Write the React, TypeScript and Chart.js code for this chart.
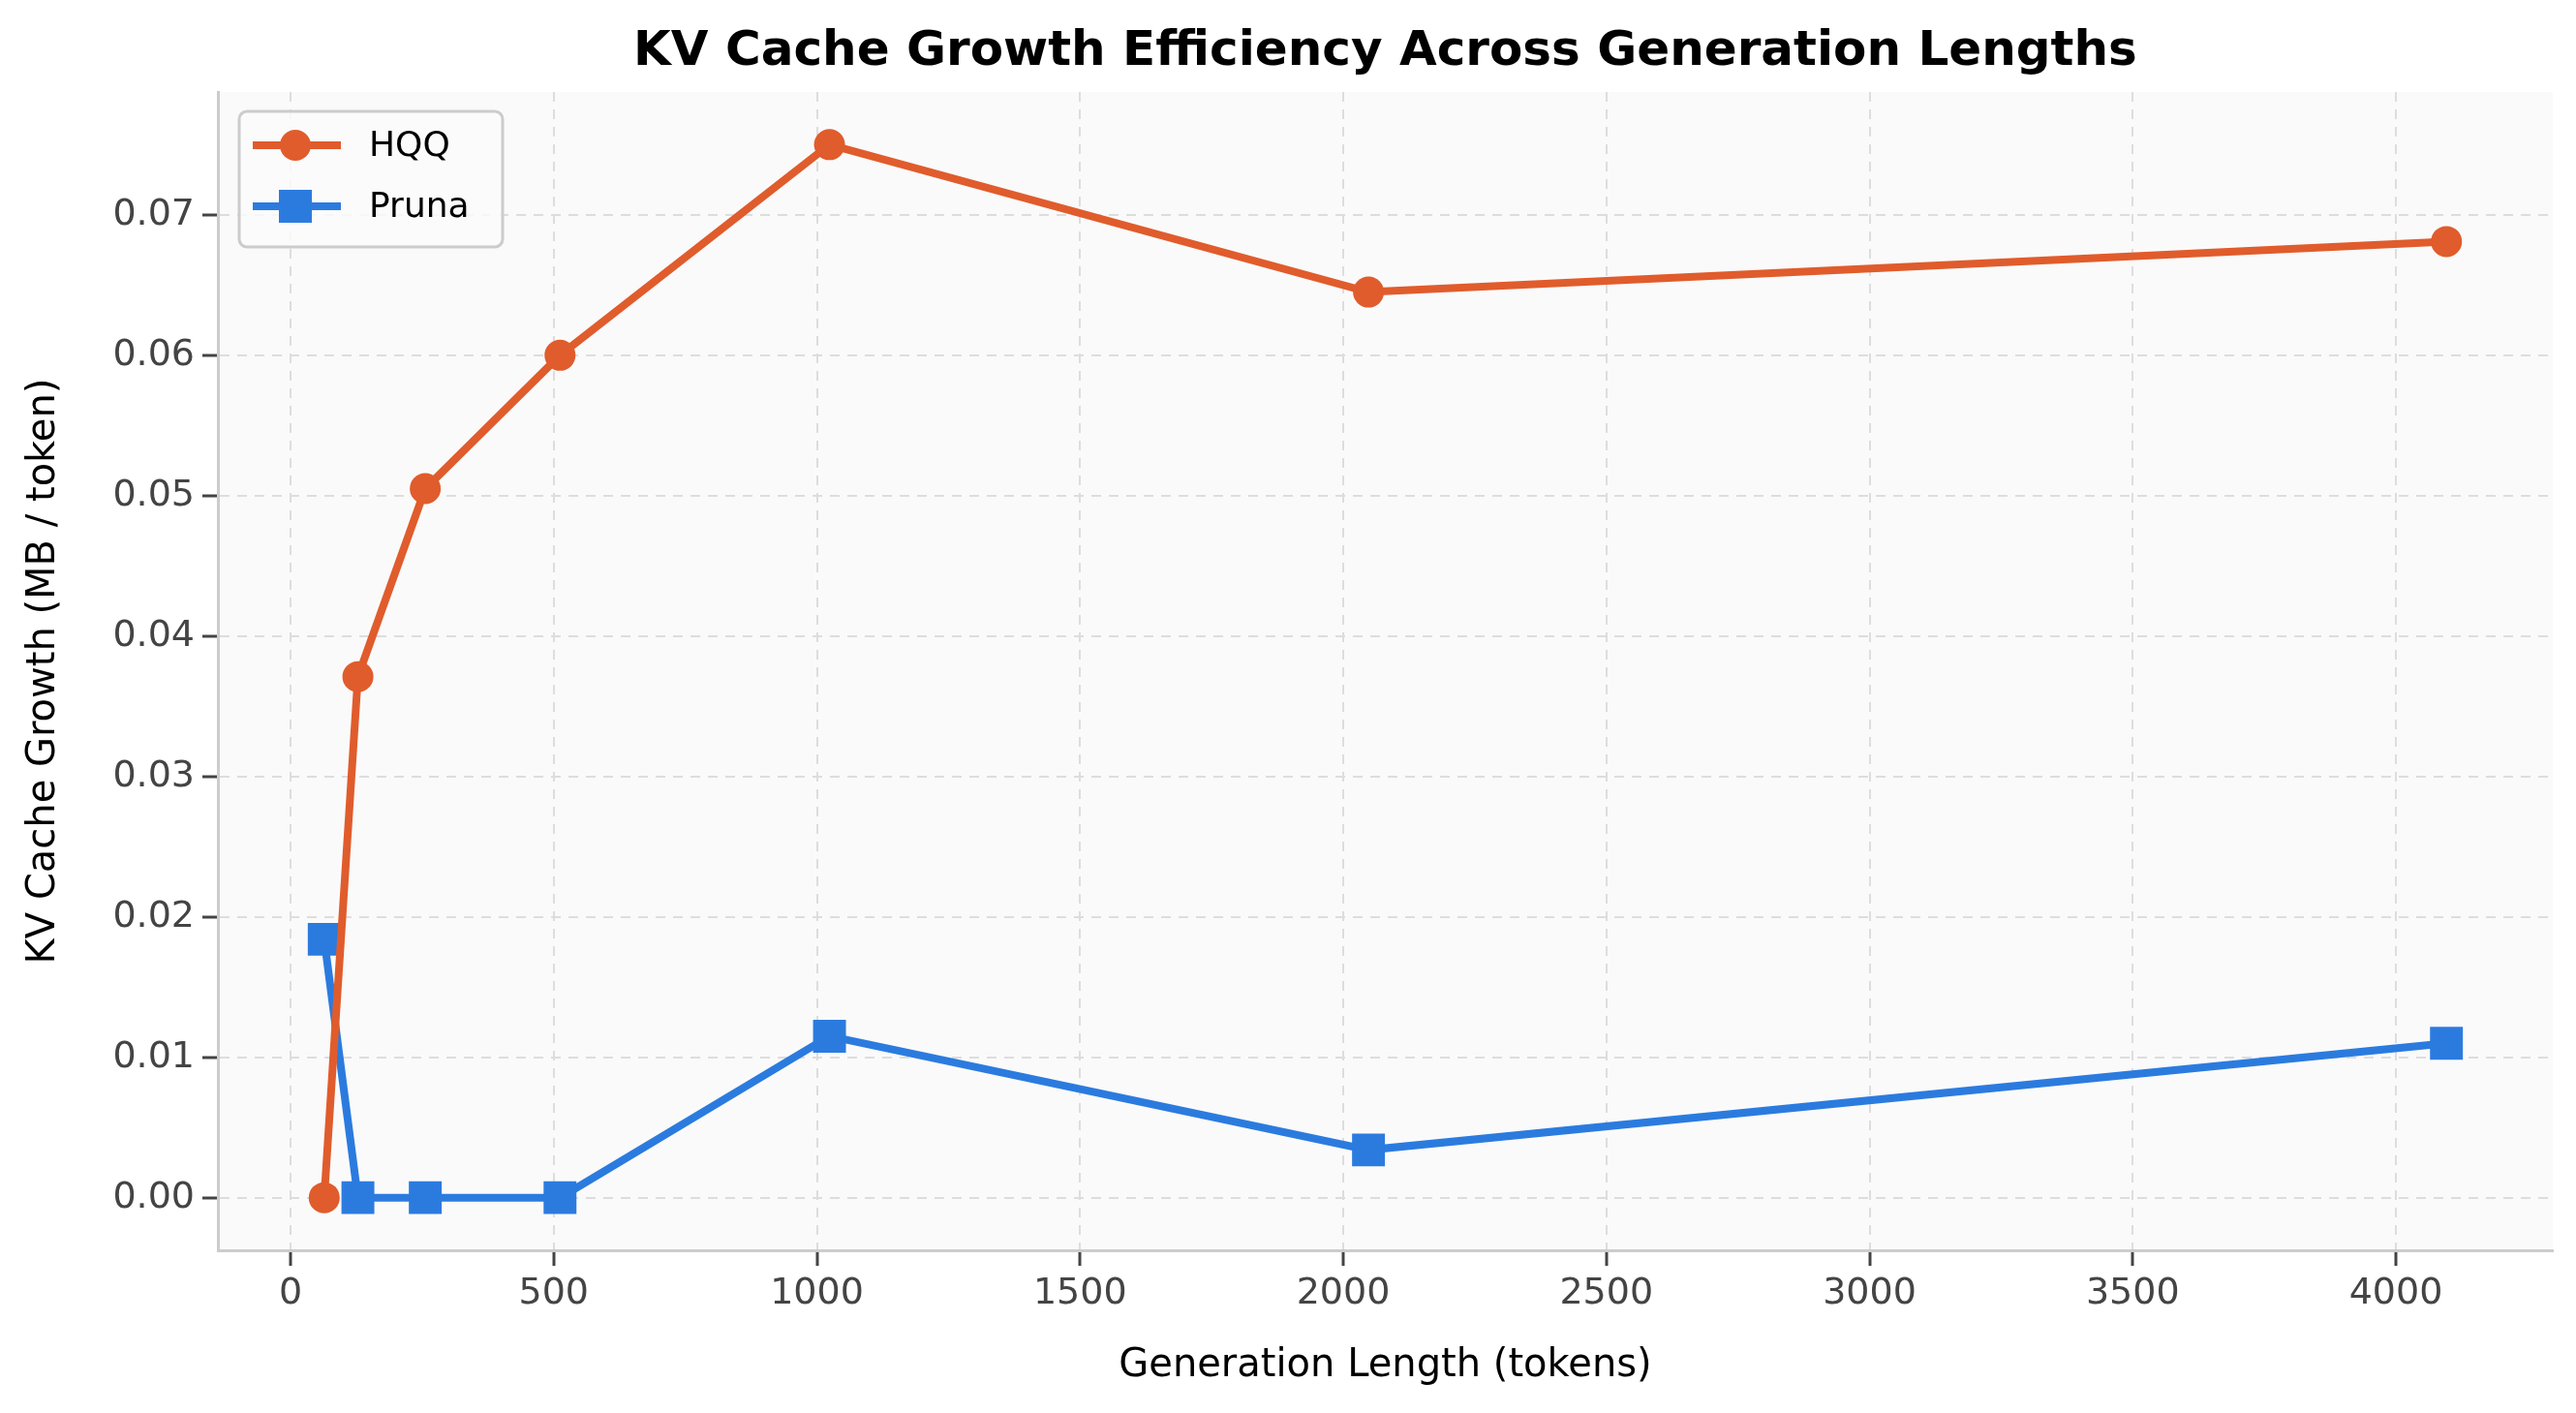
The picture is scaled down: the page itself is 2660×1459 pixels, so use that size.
import React, { useEffect, useRef } from "react";
import { Chart, registerables } from "chart.js";
Chart.register(...registerables);

const genLengths = [64, 128, 256, 512, 1024, 2048, 4096];
const hqqValues = [0.0, 0.0371, 0.0505, 0.06, 0.075, 0.0645, 0.0681];
const prunaValues = [0.0184, 0.0, 0.0, 0.0, 0.0115, 0.0034, 0.011];
const xTicks = [0, 500, 1000, 1500, 2000, 2500, 3000, 3500, 4000];
const yTicks = [0, 0.01, 0.02, 0.03, 0.04, 0.05, 0.06, 0.07];

const HQQ = "#E05C2C";
const PRUNA = "#2B7BDF";
const FONT = "DejaVu Sans";

export default function App() {
  const ref = useRef<HTMLCanvasElement>(null);
  useEffect(() => {
    document.body.style.margin = "0";
    const bg = {
      id: "bg",
      beforeDraw(c: any) {
        const { ctx, chartArea: a } = c;
        ctx.save();
        ctx.fillStyle = "#ffffff";
        ctx.fillRect(0, 0, c.width, c.height);
        ctx.fillStyle = "#fafafa";
        ctx.fillRect(a.left, a.top, a.right - a.left, a.bottom - a.top);
        ctx.restore();
      },
      afterDraw(c: any) {
        const { ctx, chartArea: a } = c;
        ctx.save();
        ctx.fillStyle = "#000";
        ctx.font = `bold 50px ${FONT}`;
        ctx.textAlign = "center";
        ctx.textBaseline = "middle";
        ctx.fillText("KV Cache Growth Efficiency Across Generation Lengths", (a.left + a.right) / 2, 54);
        const x0 = a.left + 22, y0 = a.top + 20, w = 272, h = 140;
        ctx.fillStyle = "rgba(250,250,250,0.85)";
        ctx.strokeStyle = "#cccccc";
        ctx.lineWidth = 3;
        ctx.beginPath();
        (ctx as any).roundRect(x0, y0, w, h, 8);
        ctx.fill();
        ctx.stroke();
        const items = [
          { label: "HQQ", color: HQQ, y: y0 + 35, shape: "c" },
          { label: "Pruna", color: PRUNA, y: y0 + 98, shape: "s" },
        ];
        ctx.font = `36px ${FONT}`;
        ctx.textAlign = "left";
        for (const it of items) {
          ctx.strokeStyle = it.color;
          ctx.fillStyle = it.color;
          ctx.lineWidth = 8;
          ctx.beginPath();
          ctx.moveTo(x0 + 14, it.y);
          ctx.lineTo(x0 + 105, it.y);
          ctx.stroke();
          if (it.shape === "c") {
            ctx.beginPath();
            ctx.arc(x0 + 58, it.y, 16, 0, Math.PI * 2);
            ctx.fill();
          } else {
            ctx.fillRect(x0 + 41, it.y - 17, 34, 34);
          }
          ctx.fillStyle = "#000";
          ctx.fillText(it.label, x0 + 134, it.y + 2);
        }
        ctx.restore();
      },
    };
    const gridCfg = { color: "#dddddd", lineWidth: 2, tickLength: 16, tickColor: "#444", tickBorderDash: [], tickWidth: 3 };
    const chart = new Chart(ref.current!, {
      type: "line",
      data: {
        datasets: [
          {
            label: "HQQ",
            data: genLengths.map((x, i) => ({ x, y: hqqValues[i] })),
            borderColor: HQQ,
            backgroundColor: HQQ,
            borderWidth: 8,
            pointStyle: "circle",
            pointRadius: 16,
            pointBorderWidth: 0,
          },
          {
            label: "Pruna",
            data: genLengths.map((x, i) => ({ x, y: prunaValues[i] })),
            borderColor: PRUNA,
            backgroundColor: PRUNA,
            borderWidth: 8,
            pointStyle: "rect",
            pointRadius: 24,
            pointBorderWidth: 0,
          },
        ],
      },
      plugins: [bg],
      options: {
        responsive: false,
        animation: false,
        devicePixelRatio: 1,
        layout: { padding: { top: 95, right: 17, left: 18, bottom: 20 } },
        plugins: { legend: { display: false }, tooltip: { enabled: false } },
        scales: {
          x: {
            type: "linear",
            min: -138,
            max: 4298,
            afterBuildTicks(s: any) {
              s.ticks = xTicks.map((v) => ({ value: v }));
            },
            afterFit(s: any) {
              s.height = 148;
            },
            ticks: { color: "#444", font: { family: FONT, size: 38 }, padding: 6, callback: (v: any) => String(v) },
            grid: gridCfg,
            border: { color: "#cccccc", width: 3, dash: [10, 8] },
            title: { display: true, text: "Generation Length (tokens)", color: "#000", font: { family: FONT, size: 40 }, padding: { top: 0 } },
          },
          y: {
            type: "linear",
            min: -0.00375,
            max: 0.07875,
            afterBuildTicks(s: any) {
              s.ticks = yTicks.map((v) => ({ value: v }));
            },
            afterFit(s: any) {
              s.width = 207;
            },
            ticks: { color: "#444", font: { family: FONT, size: 38 }, padding: 8, callback: (v: any) => Number(v).toFixed(2) },
            grid: gridCfg,
            border: { color: "#cccccc", width: 3, dash: [10, 8] },
            title: { display: true, text: "KV Cache Growth (MB / token)", color: "#000", font: { family: FONT, size: 40 }, padding: { bottom: 10 } },
          },
        },
      },
    } as any);
    return () => chart.destroy();
  }, []);
  return <canvas ref={ref} width={2660} height={1459} style={{ display: "block" }} />;
}
